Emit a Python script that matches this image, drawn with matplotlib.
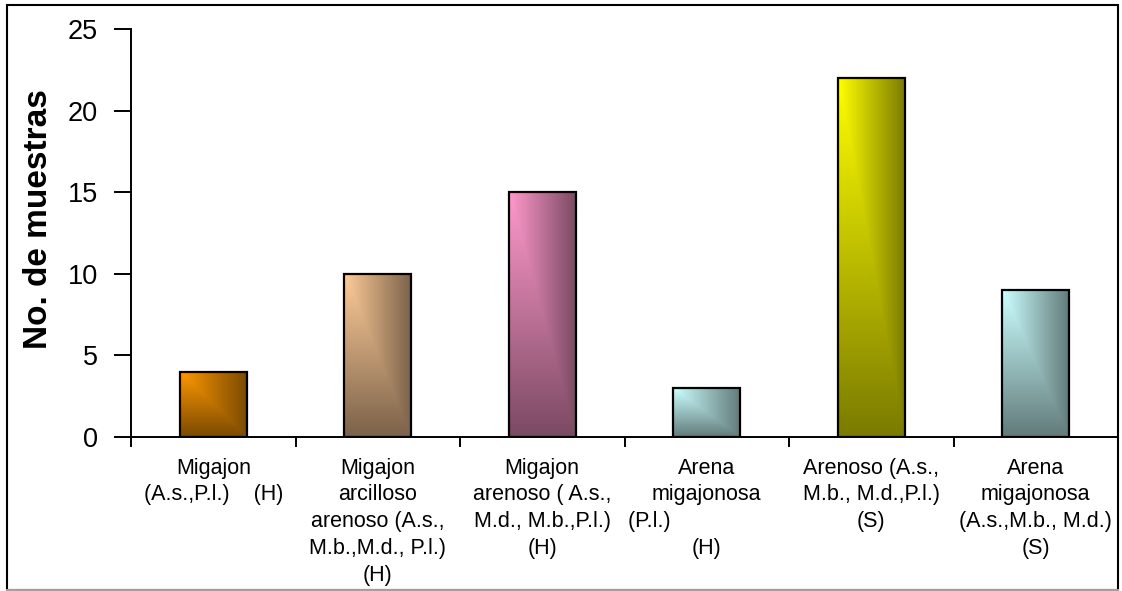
import numpy as np
import matplotlib
matplotlib.use("Agg")
import matplotlib.pyplot as plt
from matplotlib.colors import to_rgb
from matplotlib.patches import Rectangle
from matplotlib.lines import Line2D

plt.rcParams['font.family'] = ['Liberation Sans', 'DejaVu Sans']

# Datos: número de muestras por tipo de textura
categorias = [
    "Migajon\n(A.s.,P.l.)    (H)",
    "Migajon\narcilloso\narenoso (A.s.,\nM.b.,M.d., P.l.)\n(H)",
    "Migajon\narenoso ( A.s.,\nM.d., M.b.,P.l.)\n(H)",
    "Arena\nmigajonosa\n(P.l.)                   \n(H)",
    "Arenoso (A.s.,\nM.b., M.d.,P.l.)\n(S)",
    "Arena\nmigajonosa\n(A.s.,M.b., M.d.)\n(S)",
]
muestras = [4, 10, 15, 3, 22, 9]
colores = ["#FF9900", "#FFCC99", "#FF99CC", "#CCFFFF", "#FFFF00", "#CCFFFF"]
y_ticks = [0, 5, 10, 15, 20, 25]

W, H = 1122, 591
fig = plt.figure(figsize=(W / 100, H / 100), dpi=100)
ax = fig.add_axes([131 / W, 1 - 436.8 / H, 987 / W, 407.5 / H])

ancho = 0.41
x = np.arange(len(muestras))
barras = ax.bar(x, muestras, width=ancho, color='none', edgecolor='black',
                linewidth=1.6, zorder=3)

# Relleno degradado desde la esquina superior izquierda
nx, ny = 60, 200
u = np.linspace(0, 1, nx)[None, :]
v = np.linspace(0, 1, ny)[:, None]
t = np.maximum(u, v)
for barra, xc, h, c in zip(barras, x, muestras, colores):
    claro = np.array(to_rgb(c))
    oscuro = claro * 0.48
    img = claro[None, None, :] * (1 - t[..., None]) + oscuro[None, None, :] * t[..., None]
    im = ax.imshow(img, extent=(xc - ancho / 2, xc + ancho / 2, 0, h),
                   origin='upper', aspect='auto', interpolation='bilinear', zorder=2)
    im.set_clip_path(barra)

ax.set_xlim(-0.5, len(muestras) - 0.5)
ax.set_ylim(0, 25)
ax.set_aspect('auto')

ax.set_yticks(y_ticks)
ax.tick_params(axis='y', labelsize=19.5, length=12, width=1.4, pad=12, direction='out')

# Marcas entre categorías, etiquetas al centro
ax.set_xticks(np.arange(len(muestras) + 1) - 0.5)
ax.set_xticklabels([])
ax.set_xticks(x, minor=True)
ax.set_xticklabels(categorias, minor=True, fontsize=15.5, linespacing=1.36,
                   va='top', ha='center')
ax.tick_params(axis='x', which='major', length=7, width=1.4, direction='out')
ax.tick_params(axis='x', which='minor', length=0, pad=15)

for lado in ['top', 'right']:
    ax.spines[lado].set_visible(False)
for lado in ['left', 'bottom']:
    ax.spines[lado].set_linewidth(1.4)

fig.text(39 / W, 1 - 219 / H, "No. de muestras", rotation=90, fontsize=24,
         fontweight='bold', ha='center', va='center')

# Marco exterior del gráfico
fig.patches.append(Rectangle((7 / W, 1 - 590 / H), 1111 / W, 585 / H,
                             transform=fig.transFigure, fill=False,
                             edgecolor='black', linewidth=1.5))
fig.lines.append(Line2D([7 / W, 1118 / W], [1 - 590 / H, 1 - 590 / H],
                        transform=fig.transFigure, color='#A0A0A0', linewidth=1.5))

fig.savefig("out.png", dpi=100)
